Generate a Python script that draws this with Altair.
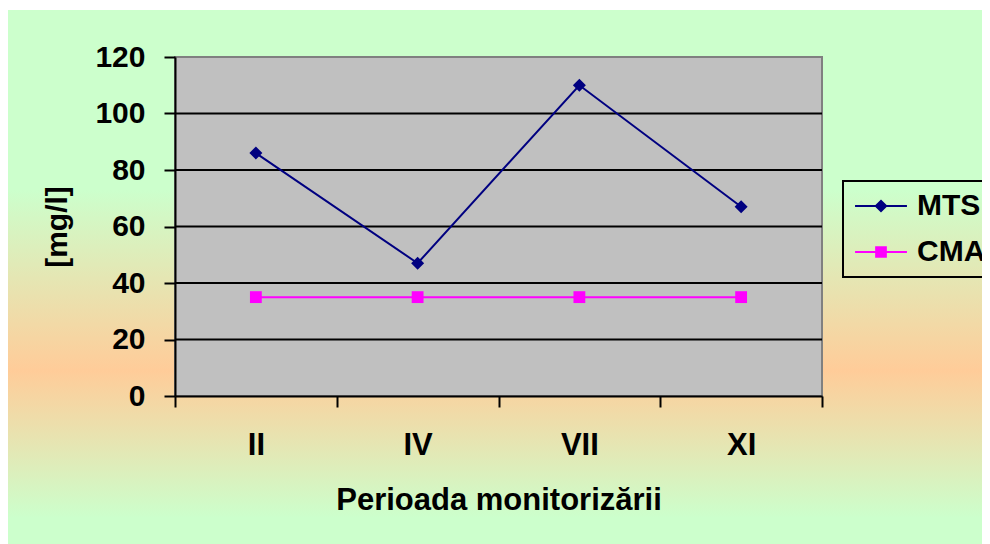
import altair as alt
import pandas as pd

periods = ["II", "IV", "VII", "XI"]
mts = [86, 47, 110, 67]
cma = [35, 35, 35, 35]
series = ["MTS", "CMA"]
colors = ["#000080", "#FF00FF"]
y_ticks = [0, 20, 40, 60, 80, 100, 120]
grid_vals = [20, 40, 60, 80, 100]

W, H = 647, 339
PAD_L, PAD_T = 167, 49
FONT = "Liberation Sans"

df = pd.DataFrame({
    "period": periods * 2,
    "series": ["MTS"] * len(periods) + ["CMA"] * len(periods),
    "value": mts + cma,
})
grid_df = pd.DataFrame({"value": grid_vals})
one = pd.DataFrame({"a": [0]})

x_enc = alt.X(
    "period:N", sort=periods, bandPosition=0.5,
    scale=alt.Scale(type="band", domain=periods, paddingInner=0, paddingOuter=0),
    axis=alt.Axis(
        title="Perioada monitorizării", tickBand="extent", labelAngle=0,
        labelFont=FONT, labelFontSize=31, labelFontWeight="bold", labelColor="black",
        labelPadding=23, tickSize=11, tickWidth=2, tickColor="black",
        domainColor="black", domainWidth=2, grid=False,
        titleFont=FONT, titleFontSize=31, titleFontWeight="bold", titleColor="black",
        titlePadding=25, zindex=1,
    ),
)
y_enc = alt.Y(
    "value:Q",
    scale=alt.Scale(domain=[0, 120], nice=False),
    axis=alt.Axis(
        title="[mg/l]", values=y_ticks, grid=False,
        labelFont=FONT, labelFontSize=30, labelFontWeight="bold", labelColor="black",
        labelPadding=19, tickSize=11, tickWidth=2, tickColor="black",
        domainColor="black", domainWidth=2,
        titleFont=FONT, titleFontSize=30, titleFontWeight="bold", titleColor="black",
        titlePadding=22, zindex=1,
    ),
)

bg_grad = alt.LinearGradient(
    gradient="linear", x1=0, y1=0, x2=0, y2=1,
    stops=[
        alt.GradientStop(color="#CCFFCC", offset=0),
        alt.GradientStop(color="#CCFFCC", offset=0.33),
        alt.GradientStop(color="#FFCC99", offset=0.66),
        alt.GradientStop(color="#CCFFCC", offset=0.93),
        alt.GradientStop(color="#CCFFCC", offset=1),
    ],
)

bg = alt.Chart(one).mark_rect(fill=bg_grad).encode(
    x=alt.value(-PAD_L), x2=alt.value(W + 200),
    y=alt.value(-PAD_T + 2), y2=alt.value(H + 160),
)
plot_area = alt.Chart(one).mark_rect(fill="#C0C0C0", stroke="#808080", strokeWidth=2).encode(
    x=alt.value(0), x2=alt.value(W), y=alt.value(0), y2=alt.value(H),
)
grid = alt.Chart(grid_df).mark_rule(color="black", strokeWidth=2).encode(y=y_enc)

layers = [bg, plot_area, grid]
marker = {"MTS": ("diamond", 170), "CMA": ("square", 140)}
for s, c in zip(series, colors):
    base = alt.Chart(df).transform_filter(alt.datum.series == s)
    layers.append(base.mark_line(color=c, strokeWidth=2).encode(x=x_enc, y=y_enc))
for s, c in zip(series, colors):
    base = alt.Chart(df).transform_filter(alt.datum.series == s)
    shp, sz = marker[s]
    layers.append(base.mark_point(shape=shp, size=sz, filled=True, color=c, opacity=1).encode(x=x_enc, y=y_enc))

path_mts = "M-1.73,-0.067H1.73V0.067H-1.73Z M0,-0.44L0.44,0L0,0.44L-0.44,0Z"
path_cma = "M-1.73,-0.067H1.73V0.067H-1.73Z M-0.39,-0.39H0.39V0.39H-0.39Z"

leg = alt.Legend(
    title=None, orient="none", legendX=668, legendY=124,
    labelFont=FONT, labelFontSize=30, labelFontWeight="bold", labelColor="black",
    symbolSize=900, symbolStrokeWidth=0, symbolOpacity=1,
    symbolOffset=13, labelOffset=21, rowPadding=16, padding=10,
    strokeColor="black",
)
legend_layer = alt.Chart(df).mark_point(filled=True, opacity=0).encode(
    x=x_enc, y=y_enc,
    color=alt.Color("series:N", scale=alt.Scale(domain=series, range=colors), legend=leg),
    shape=alt.Shape("series:N", scale=alt.Scale(domain=series, range=[path_mts, path_cma]), legend=leg),
)
layers.append(legend_layer)

chart = alt.layer(*layers).properties(
    width=W, height=H,
    autosize=alt.AutoSizeParams(type="none"),
    padding={"left": PAD_L, "top": PAD_T, "right": 974 - PAD_L - W, "bottom": 536 - PAD_T - H},
    background="white",
).configure_view(stroke=None, fill=None).configure_legend(strokeWidth=2)

chart.save("out.html", embed_options={"renderer": "svg", "actions": False})
